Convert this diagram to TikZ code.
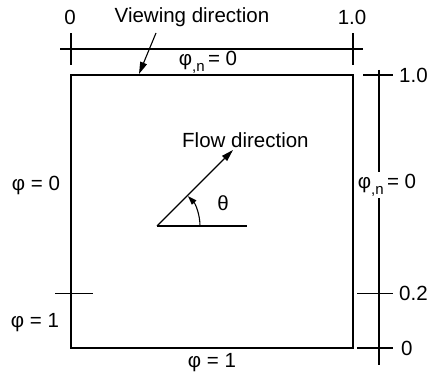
\documentclass[tikz,border=0pt]{standalone}
\usepackage{fontspec}
\setmainfont{Liberation Sans}
\usetikzlibrary{arrows.meta}
\begin{document}
\begin{tikzpicture}[x=1pt,y=1pt,
  ln/.style={line width=1.1pt},
  lbl/.style={inner sep=1pt,font=\fontsize{20.5}{24}\selectfont},
  bigtip/.style={-{Triangle[length=12pt,width=7pt]}},
  smalltip/.style={-{Triangle[length=9pt,width=6pt]}}]
\newcommand{\phin}{φ\raisebox{-6pt}{\fontsize{15}{15}\selectfont ,n}\,= 0}
\useasboundingbox (0,0) rectangle (432,372);
% box
\draw[ln] (71,24) rectangle (353,297);
% top dimension
\coordinate (tl) at (60,323); \coordinate (tr) at (363,323);
\draw[ln] (tl) -- (tr);
\draw[ln] (71,307) -- (71,339);
\draw[ln] (353,307) -- (353,339);
\node[lbl] (t0) at (70,355) {0};
\node[lbl] (t1) at (352,355) {1.0};
\node[lbl] (vd) at (192,355) {Viewing direction};
\coordinate (vdtip) at (139,298);
\draw[ln,bigtip] (156,339) -- (vdtip);
\node[lbl] (pntop) at (208,310) {\phin};
% left
\draw[ln] (55,78.6) -- (93,78.6);
\node[lbl] (l0) at (36,187) {φ = 0};
\node[lbl] (l1) at (35,49) {φ = 1};
% bottom
\node[lbl] (b1) at (212,9) {φ = 1};
% right dimension
\draw[ln] (379,302) -- (379,7);
\node[lbl,fill=white,inner sep=2pt] (pnr) at (387,187) {\phin};
\draw[ln] (363,297) -- (393,297);
\draw[ln] (357,78.6) -- (393,78.6);
\draw[ln] (357,24) -- (393,24);
\node[lbl,anchor=west] (r1) at (398,297) {1.0};
\node[lbl,anchor=west] (r2) at (398,78.6) {0.2};
\node[lbl,anchor=west] (r0) at (400,24) {0};
% flow
\coordinate (O) at (157,146);
\coordinate (F) at (233,222);
\coordinate (H) at (247,146);
\draw[ln] (O) -- (H);
\draw[ln,bigtip] (O) -- (F);
\draw[ln,smalltip] (200,146) arc[start angle=0,end angle=44,radius=43];
\node[lbl,anchor=west] (fd) at (181,232) {Flow direction};
\node[lbl] (th) at (223,169) {θ};
\end{tikzpicture}
\end{document}
